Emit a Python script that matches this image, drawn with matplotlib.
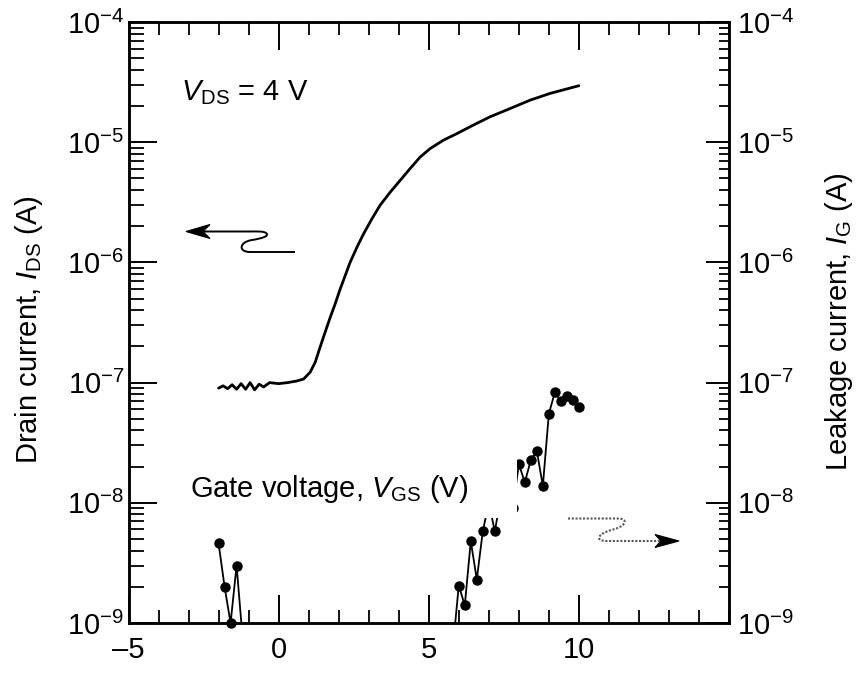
import matplotlib
matplotlib.use('Agg')
import matplotlib.pyplot as plt
from matplotlib.path import Path
from matplotlib.patches import PathPatch, Polygon, Rectangle
from matplotlib.ticker import FixedLocator, FixedFormatter, LogLocator, NullFormatter, MultipleLocator

plt.rcParams['font.family'] = ['Liberation Sans', 'DejaVu Sans']
plt.rcParams['mathtext.fontset'] = 'custom'
plt.rcParams['mathtext.rm'] = 'Liberation Sans'
plt.rcParams['mathtext.it'] = 'Liberation Sans:italic'
plt.rcParams['mathtext.bf'] = 'Liberation Sans:bold'

# ---------------- data ----------------
vgs_ids = [-2.0, -1.85, -1.7, -1.55, -1.4, -1.25, -1.1, -0.95, -0.8, -0.65, -0.5,
           -0.3, 0.0, 0.3, 0.6, 0.83, 1.05, 1.22, 1.38, 1.55, 1.72, 1.88, 2.05, 2.22,
           2.38, 2.61, 2.83, 3.11, 3.38, 3.72, 4.05, 4.38, 4.72, 5.05, 5.49, 5.94,
           6.49, 7.05, 7.72, 8.38, 9.05, 10.0]
ids = [9.0e-8, 9.4e-8, 8.9e-8, 9.6e-8, 8.8e-8, 9.8e-8, 8.8e-8, 1.0e-7, 8.7e-8, 9.7e-8, 9.2e-8,
       1.0e-7, 9.8e-8, 1.0e-7, 1.03e-7, 1.07e-7, 1.22e-7, 1.48e-7, 1.97e-7, 2.63e-7, 3.5e-7,
       4.5e-7, 6.0e-7, 7.8e-7, 1.0e-6, 1.34e-6, 1.73e-6, 2.31e-6, 2.99e-6, 3.85e-6, 4.82e-6,
       6.04e-6, 7.55e-6, 8.86e-6, 1.04e-5, 1.18e-5, 1.39e-5, 1.63e-5, 1.91e-5, 2.24e-5,
       2.55e-5, 2.95e-5]

vgs_ig = [-2.0, -1.8, -1.6, -1.4, -1.2, 5.8, 6.0, 6.2, 6.4, 6.6, 6.8, 7.0, 7.2, 7.4,
          7.6, 7.8, 8.0, 8.2, 8.4, 8.6, 8.8, 9.0, 9.2, 9.4, 9.6, 9.8, 10.0]
ig = [4.6e-9, 2.0e-9, 1.0e-9, 3.0e-9, 7.5e-10, 6.1e-10, 2.05e-9, 1.4e-9, 4.8e-9, 2.3e-9,
      5.8e-9, 1.0e-8, 5.8e-9, 1.1e-8, 1.3e-8, 9.0e-9, 2.1e-8, 1.48e-8, 2.27e-8, 2.7e-8,
      1.38e-8, 5.5e-8, 8.3e-8, 7.0e-8, 7.8e-8, 7.1e-8, 6.3e-8]

xtick_values = [-5, 0, 5, 10]
xtick_labels = ['\u20135', '0', '5', '10']
ytick_values = [1e-9, 1e-8, 1e-7, 1e-6, 1e-5, 1e-4]
ytick_labels = [r'$10^{-9}$', r'$10^{-8}$', r'$10^{-7}$', r'$10^{-6}$', r'$10^{-5}$', r'$10^{-4}$']

# ---------------- figure ----------------
W, H = 856, 673
fig = plt.figure(figsize=(W / 100, H / 100), dpi=100)
L, R, T, B = 128.5, 729.0, 22.0, 623.0
ax = fig.add_axes([L / W, 1 - B / H, (R - L) / W, (B - T) / H])

def px(X, Y):
    return ((X - L) / (R - L), (B - Y) / (B - T))

ax.set_xlim(-5, 15)
ax.set_yscale('log')
ax.set_ylim(1e-9, 1e-4)

# drain current
ax.plot(vgs_ids, ids, color='black', lw=2.0, solid_capstyle='round', solid_joinstyle='round', zorder=2)
# leakage current
ax.plot(vgs_ig, ig, color='black', lw=1.3, zorder=2)
xm = [v for v, i in zip(vgs_ig, ig) if i >= 1e-9]
ym = [i for i in ig if i >= 1e-9]
ax.plot(xm, ym, 'o', color='black', ms=6.5, clip_on=False, zorder=2.5)

# white box with in-plot x label
x0, y0 = px(180, 518)
x1, y1 = px(517, 458)
ax.add_patch(Rectangle((x0, y0), x1 - x0, y1 - y0, transform=ax.transAxes,
                       facecolor='white', edgecolor='none', zorder=3))
tx, ty = px(468, 497)
ax.text(tx, ty, r'Gate voltage, $V_{\mathrm{GS}}$ (V)', transform=ax.transAxes,
        ha='right', va='baseline', fontsize=21, zorder=4)

tx, ty = px(181, 100)
ax.text(tx, ty, r'$V_{\mathrm{DS}}$ = 4 V', transform=ax.transAxes,
        ha='left', va='baseline', fontsize=21, zorder=4)

# left squiggle arrow
pts = [(295, 252), (250, 252), (238, 252), (239, 242), (252, 240), (262, 238.5), (270, 236),
       (266, 233), (263, 231), (258, 231.5), (250, 231.5), (200, 231.5)]
codes = [Path.MOVETO, Path.LINETO, Path.CURVE4, Path.CURVE4, Path.CURVE4, Path.CURVE4,
         Path.CURVE4, Path.CURVE4, Path.CURVE4, Path.CURVE4, Path.CURVE4, Path.LINETO]
ax.add_patch(PathPatch(Path([px(*p) for p in pts], codes), transform=ax.transAxes,
                       facecolor='none', edgecolor='black', lw=1.4, zorder=4))
ax.add_patch(Polygon([px(186, 231.5), px(210, 224.5), px(203, 231.5), px(210, 238.5)],
                     closed=True, transform=ax.transAxes, facecolor='black', edgecolor='black',
                     lw=0.8, zorder=4))

# right dotted squiggle arrow
pts = [(568, 518.5), (618, 518.5), (628, 518.5), (627, 526), (613, 529.5), (598, 533.5),
       (594, 540.5), (606, 541), (662, 541)]
codes = [Path.MOVETO, Path.LINETO, Path.CURVE4, Path.CURVE4, Path.CURVE4, Path.CURVE4,
         Path.CURVE4, Path.CURVE4, Path.LINETO]
ax.add_patch(PathPatch(Path([px(*p) for p in pts], codes), transform=ax.transAxes,
                       facecolor='none', edgecolor='#555555', lw=1.5, linestyle=(0, (1, 0.8)),
                       zorder=4))
ax.add_patch(Polygon([px(679, 541), px(655, 534.5), px(661, 541), px(655, 547.5)],
                     closed=True, transform=ax.transAxes, facecolor='black', edgecolor='black',
                     lw=0.8, zorder=4))

# ticks
ax.xaxis.set_major_locator(FixedLocator(xtick_values))
ax.xaxis.set_major_formatter(FixedFormatter(xtick_labels))
ax.xaxis.set_minor_locator(MultipleLocator(1))
ax.tick_params(axis='x', which='major', direction='in', length=20, width=1.4, top=True,
               labelsize=21, pad=9)
ax.tick_params(axis='x', which='minor', direction='in', length=9.5, width=1.3, top=True)

ax.yaxis.set_major_locator(FixedLocator(ytick_values))
ax.yaxis.set_major_formatter(FixedFormatter(ytick_labels))
ax.yaxis.set_minor_locator(LogLocator(base=10, subs=range(2, 10), numticks=20))
ax.yaxis.set_minor_formatter(NullFormatter())
ax.tick_params(axis='y', which='major', direction='in', length=20, width=1.4, right=False,
               labelsize=21, pad=3)
ax.tick_params(axis='y', which='minor', direction='in', length=11, width=1.3, right=False)

ax2 = ax.twinx()
ax2.set_yscale('log')
ax2.set_ylim(1e-9, 1e-4)
ax2.yaxis.set_major_locator(FixedLocator(ytick_values))
ax2.yaxis.set_major_formatter(FixedFormatter(ytick_labels))
ax2.yaxis.set_minor_locator(LogLocator(base=10, subs=range(2, 10), numticks=20))
ax2.yaxis.set_minor_formatter(NullFormatter())
ax2.tick_params(axis='y', which='major', direction='in', length=16.5, width=1.4,
                labelsize=21, pad=6)
ax2.tick_params(axis='y', which='minor', direction='in', length=7.5, width=1.3)

for a in (ax, ax2):
    for s in a.spines.values():
        s.set_linewidth(1.8)

ax.set_ylabel(r'Drain current, $I_{\mathrm{DS}}$ (A)', fontsize=21)
ax.yaxis.set_label_coords(px(45, 0)[0], px(0, 330)[1])
ax2.set_ylabel(r'Leakage current, $I_{\mathrm{G}}$ (A)', fontsize=21, rotation=90)
ax2.yaxis.set_label_coords(px(823, 0)[0], px(0, 322)[1])

fig.savefig('out.png', dpi=100)
